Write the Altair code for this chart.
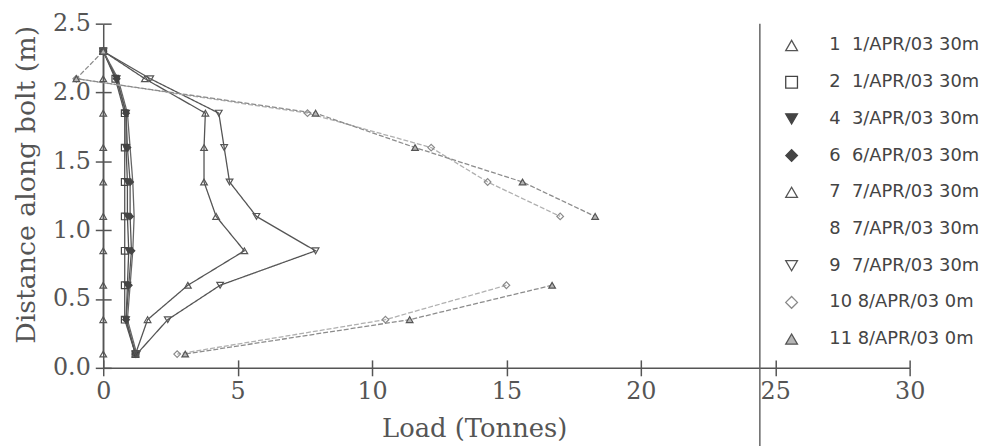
import altair as alt
import pandas as pd

# ---- data ----
depths = [2.3, 2.1, 1.85, 1.6, 1.35, 1.1, 0.85, 0.6, 0.35, 0.1]

series_ids = ["1", "2", "4", "6", "7", "8", "9", "10", "11"]
series_labels = [
    "1\u00a0\u00a01/APR/03 30m",
    "2\u00a0\u00a01/APR/03 30m",
    "4\u00a0\u00a03/APR/03 30m",
    "6\u00a0\u00a06/APR/03 30m",
    "7\u00a0\u00a07/APR/03 30m",
    "8\u00a0\u00a07/APR/03 30m",
    "9\u00a0\u00a07/APR/03 30m",
    "10\u00a08/APR/03 0m",
    "11\u00a08/APR/03 0m",
]

load_1 = [0, 0, 0, 0, 0, 0, 0, 0, 0, 0]
load_2 = [0, 0.45, 0.8, 0.8, 0.8, 0.8, 0.8, 0.8, 0.8, 1.2]
load_4 = [0, 0.5, 0.85, 0.85, 0.9, 0.9, 0.95, 0.9, 0.85, 1.2]
load_6 = [0, 0.5, 0.85, 0.9, 1.0, 1.0, 1.05, 0.95, 0.85, 1.2]
load_7 = [0, 1.55, 3.8, 3.75, 3.75, 4.2, 5.25, 3.15, 1.65, 1.2]
load_8 = [0, 0.55, 0.9, 1.0, 1.1, 1.15, 1.1, 1.0, 0.9, 1.25]
load_9 = [0, 1.75, 4.3, 4.5, 4.7, 5.7, 7.9, 4.35, 2.4, 1.25]
load_10 = [None, -1.0, 7.6, 12.2, 14.3, 17.0, None, 15.0, 10.5, 2.75]
load_11 = [0, -1.0, 7.9, 11.6, 15.6, 18.3, None, 16.7, 11.4, 3.05]

all_loads = [load_1, load_2, load_4, load_6, load_7, load_8, load_9, load_10, load_11]

# ---- styles ----
shapes = ["triangle-up", "square", "triangle-down", "diamond", "triangle-up",
          "circle", "triangle-down", "diamond", "triangle-up"]
fills = ["transparent", "transparent", "#444444", "#444444", "transparent",
         "transparent", "transparent", "transparent", "#b5b5b5"]
strokes = ["#555555", "#444444", "#444444", "#444444", "#555555",
           "transparent", "#555555", "#8a8a8a", "#555555"]
line_colors = ["#555555", "#555555", "#505050", "#555555", "#555555",
               "#666666", "#555555", "#b0b0b0", "#8c8c8c"]
dashes = [[1, 0]] * 7 + [[5, 2], [5, 2]]

rows = []
for sid, lab, loads in zip(series_ids, series_labels, all_loads):
    seg = 0
    for i, (d, v) in enumerate(zip(depths, loads)):
        if v is None:
            seg += 1
            continue
        rows.append({"sid": sid, "series": lab, "seg": f"{sid}-{seg}", "idx": i,
                     "depth": d, "load": v})
df = pd.DataFrame(rows)

xscale = alt.Scale(domain=[0, 30], nice=False, zero=False)
yscale = alt.Scale(domain=[0, 2.5], nice=False, zero=False)

axis_col = "#555555"
serif = "DejaVu Serif"

x_main = alt.Axis(values=[0, 5, 10, 15, 20, 25, 30], title="Load (Tonnes)", grid=False,
                  tickSize=8, tickWidth=1.5, tickColor=axis_col, domainColor=axis_col,
                  domainWidth=1.5, labelFont=serif, labelFontSize=24, labelColor=axis_col,
                  labelPadding=4, labelFlush=False, labelOverlap=False,
                  titleFont=serif, titleFontSize=26, titleFontWeight="normal",
                  titleColor=axis_col, titleX=374, titleY=69, titleAlign="center",
                  titleBaseline="alphabetic")
y_main = alt.Axis(values=[0, 0.5, 1.0, 1.5, 2.0, 2.5], format=".1f",
                  title="Distance along bolt (m)", grid=False,
                  tickSize=8, tickWidth=1.5, tickColor=axis_col, domainColor=axis_col,
                  domainWidth=1.5, labelFont=serif, labelFontSize=24, labelColor=axis_col,
                  labelPadding=5, labelFlush=False, labelOverlap=False,
                  titleFont=serif, titleFontSize=27, titleFontWeight="normal",
                  titleColor=axis_col, titleX=-77, titleY=162, titleAngle=270,
                  titleAlign="center", titleBaseline="middle")

x_inner = alt.Axis(orient="bottom", values=[0, 5, 10, 15, 20, 25, 30], offset=-8,
                   tickSize=8, tickWidth=1.5, tickColor=axis_col, domain=False,
                   labels=False, title=None, grid=False)
y_inner = alt.Axis(orient="left", values=[0, 0.5, 1.0, 1.5, 2.0, 2.5], offset=-8,
                   tickSize=8, tickWidth=1.5, tickColor=axis_col, domain=False,
                   labels=False, title=None, grid=False)

lines = alt.Chart(df).mark_line(strokeWidth=1.3).encode(
    x=alt.X("load:Q", scale=xscale, axis=x_main),
    y=alt.Y("depth:Q", scale=yscale, axis=y_main),
    color=alt.Color("sid:N", scale=alt.Scale(domain=series_ids, range=line_colors),
                    legend=None),
    strokeDash=alt.StrokeDash("sid:N", scale=alt.Scale(domain=series_ids, range=dashes),
                              legend=None),
    detail="seg:N",
    order="idx:Q",
)

legend = alt.Legend(title=None, orient="none", legendX=685, legendY=13, padding=0,
                    symbolSize=140, symbolStrokeWidth=1.3,
                    labelFont="DejaVu Sans", labelFontSize=18, labelColor="#444444",
                    labelOffset=29, rowPadding=19, labelLimit=400)

points = alt.Chart(df).mark_point(size=45, strokeWidth=1.2, opacity=1).encode(
    x=alt.X("load:Q", scale=xscale, axis=x_inner),
    y=alt.Y("depth:Q", scale=yscale, axis=y_inner),
    shape=alt.Shape("series:N", scale=alt.Scale(domain=series_labels, range=shapes),
                    legend=legend),
    fill=alt.Fill("series:N", scale=alt.Scale(domain=series_labels, range=fills),
                  legend=legend),
    stroke=alt.Stroke("series:N", scale=alt.Scale(domain=series_labels, range=strokes),
                      legend=legend),
)

divider = alt.Chart(pd.DataFrame({"a": [0]})).mark_rule(color="#666666", strokeWidth=1.5).encode(
    x=alt.value(662), y=alt.value(0), y2=alt.value(440)
)

chart = alt.layer(lines, points, divider).resolve_axis(
    x="independent", y="independent"
).properties(
    width=813, height=347, autosize="none",
    padding={"left": 96, "top": 14, "right": 78, "bottom": 77},
    background="white",
).configure_view(stroke=None)

chart.save("out.html", embed_options={"renderer": "svg", "actions": False})
